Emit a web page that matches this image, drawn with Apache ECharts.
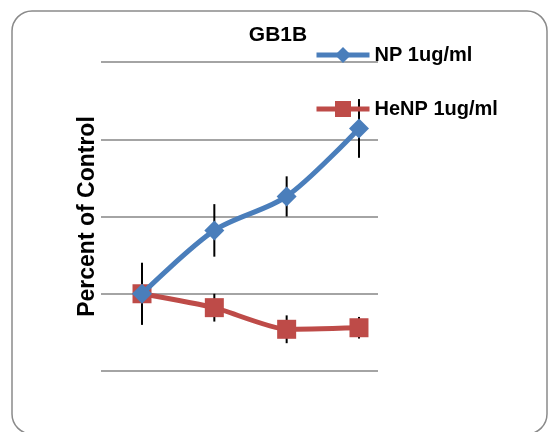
<!DOCTYPE html>
<html>
<head>
<meta charset="utf-8">
<script src="https://cdn.jsdelivr.net/npm/echarts@6/dist/echarts.min.js"></script>
<style>html,body{margin:0;padding:0;background:#fff}#c{width:548px;height:432px}</style>
</head>
<body>
<div id="c"></div>
<script>
var title = "GB1B";
var yAxisName = "Percent of Control";
var xs = [1, 2, 3, 4];
var npName = "NP 1ug/ml";
var npValues = [100, 141, 163, 207];
var npErr = [20, 17, 13, 19];
var henpName = "HeNP 1ug/ml";
var henpValues = [100, 91, 77, 78];
var henpErr = [20, 9, 9, 7];
var yTicks = [50, 100, 150, 200, 250];

var blue = "#4A7EBB", red = "#BE4B48";
function pts(v){ return xs.map(function(x,i){ return [x, v[i]]; }); }
function errData(v,e){ return xs.map(function(x,i){ return [x, v[i]-e[i], v[i]+e[i]]; }); }
function errRender(params, api){
  var lo = api.coord([api.value(0), api.value(1)]);
  var hi = api.coord([api.value(0), api.value(2)]);
  return {type:'line', shape:{x1:lo[0],y1:lo[1],x2:hi[0],y2:hi[1]}, style:{stroke:'#000', lineWidth:2}};
}
var chart = echarts.init(document.getElementById('c'));
chart.setOption({
  animation:false,
  graphic:[{type:'rect', shape:{x:12,y:11,width:535,height:423,r:20}, style:{fill:'none',stroke:'#8a8a8a',lineWidth:1.5}, z:-1}],
  title:{text:title, left:273, top:20, textAlign:'center', textStyle:{fontFamily:'Liberation Sans', fontWeight:'bold', fontSize:21, color:'#000'}},
  legend:{orient:'vertical', left:309, top:40, itemWidth:53, itemHeight:20, itemGap:34,
    data:[npName, henpName],
    lineStyle:{width:5},
    textStyle:{fontFamily:'Liberation Sans', fontWeight:'bold', fontSize:20, color:'#000'}},
  grid:{left:101, right:170, top:62, bottom:61},
  xAxis:{type:'value', min:0.433, max:4.263, show:false},
  yAxis:{type:'value', min:yTicks[0], max:yTicks[yTicks.length-1], interval:50,
    axisLine:{show:false}, axisTick:{show:false}, axisLabel:{show:false},
    splitLine:{lineStyle:{color:'#868686', width:1.5}},
    name:yAxisName, nameLocation:'middle', nameGap:2, nameRotate:90,
    nameTextStyle:{fontFamily:'Liberation Sans', fontWeight:'bold', fontSize:23, color:'#000'}},
  series:[
    {type:'custom', renderItem:errRender, data:errData(npValues,npErr), z:1, silent:true},
    {type:'custom', renderItem:errRender, data:errData(henpValues,henpErr), z:1, silent:true},
    {name:npName, type:'line', data:pts(npValues), smooth:0.3, symbol:'diamond', symbolSize:20,
      lineStyle:{color:blue, width:5}, itemStyle:{color:blue}, z:3},
    {name:henpName, type:'line', data:pts(henpValues), smooth:0.2, symbol:'rect', symbolSize:19,
      lineStyle:{color:red, width:5}, itemStyle:{color:red}, z:2}
  ]
});
</script>
</body>
</html>
